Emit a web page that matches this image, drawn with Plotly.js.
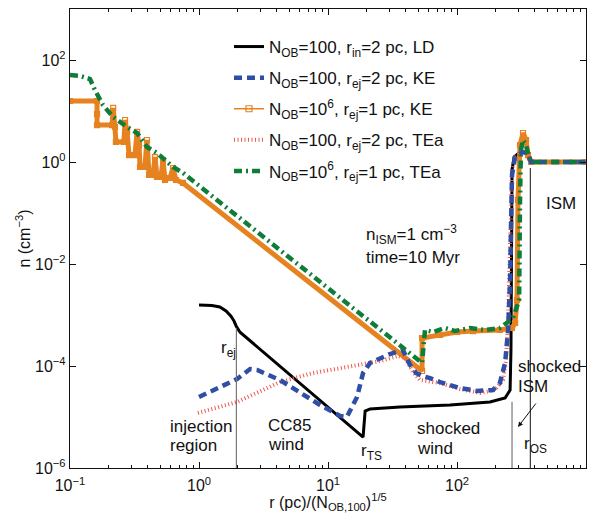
<!DOCTYPE html>
<html><head><meta charset="utf-8">
<script src="https://cdn.plot.ly/plotly-3.0.1.min.js"></script>
<style>html,body{margin:0;padding:0;background:#fff}</style>
</head><body><div id="chart" style="width:596px;height:513px"></div>
<script>
// ---- data: r (pc)/(N_OB,100)^(1/5) and n (cm^-3) ----
const rLD = [1.0,1.26,1.45,1.62,1.77,1.87,1.94,2.08,18.7,19.4,21.2,36.1,88.3,180,236,258,262,267,277,308,343,355,368,1000];
const nLD = [1.57e-3,1.53e-3,1.44e-3,1.20e-3,9.5e-4,7.6e-4,6.1e-4,4.6e-4,4.05e-6,1.31e-5,1.44e-5,1.57e-5,1.72e-5,1.97e-5,2.36e-5,3.39e-5,2.06e-4,0.70,1.25,1.57,1.50,1.2,1.0,1.0];

const rKE100 = [1.0,1.97,2.49,2.82,4.25,6.88,8.67,12.4,14.0,16.8,18.7,21.2,25.3,30.2,38.1,43.2,48.1,53.6,61.8,73.8,105,143,190,215,236,249,258,267,282,319,355,375,1000];
const nKE100 = [2.47e-5,5.56e-5,8.7e-5,8.35e-5,5.3e-5,2.47e-5,1.72e-5,1.05e-5,1.0e-5,2.47e-5,7.3e-5,1.15e-4,1.44e-4,1.72e-4,2.06e-4,1.05e-4,7.3e-5,6.4e-5,5.8e-5,4.85e-5,3.7e-5,3.24e-5,3.39e-5,4.64e-5,1.15e-4,5.1e-4,4.9e-3,0.556,1.25,1.57,1.50,1.0,1.0];

const rKE1e6 = [0.1,0.162,0.162,0.162,0.212,0.216,0.223,0.227,0.262,0.267,0.277,0.287,0.319,0.331,0.343,0.349,0.381,0.395,0.41,0.44,0.456,0.472,0.507,0.526,0.545,0.596,0.629,0.663,0.751,53.6,53.6,73.8,100,133,215,267,282,292,297,308,325,343,355,375,1000];
const nKE1e6 = [15.7,15.7,8.7,5.3,5.3,11.5,4.86,2.47,2.47,6.66,3.88,1.37,1.37,3.88,2.15,0.80,0.80,2.7,0.556,0.556,1.25,0.508,0.508,1.09,0.444,0.486,0.76,0.444,0.388,7.98e-5,3.54e-4,4.05e-4,4.64e-4,4.85e-4,5.08e-4,5.56e-4,6.97e-4,1.97e-3,0.18,2.15,3.7,2.7,1.37,1.0,1.0];

const rTE100 = [0.98,1.97,4.25,7.65,14.0,25.3,34.9,39.5,45.6,51.7,73.8,105,151,197,227,240,249,258,267,282,319,355,375,1000];
const nTE100 = [1.2e-5,1.97e-5,4.85e-5,7.3e-5,9.55e-5,1.25e-4,1.57e-4,1.44e-4,7.6e-5,5.3e-5,4.65e-5,3.54e-5,2.96e-5,3.39e-5,5.3e-5,1.31e-4,8.0e-4,0.0188,0.70,1.25,1.57,1.50,1.0,1.0];

const rTE1e6 = [0.1,0.12,0.143,0.156,0.18,0.216,0.277,0.331,0.395,0.472,0.629,0.751,53.6,56.5,65.2,80.7,96.5,126,165,215,272,303,308,313,325,343,362,380,1000];
const nTE1e6 = [50.8,48.6,42.4,25.8,13.1,7.63,4.86,3.7,1.97,1.5,0.80,0.61,1.15e-4,5.08e-4,4.64e-4,5.56e-4,4.85e-4,5.56e-4,5.08e-4,5.56e-4,8.7e-4,1.97e-3,0.18,1.72,2.7,2.15,1.2,1.0,1.0];

const names = [
  'N<sub>OB</sub>=100, r<sub>in</sub>=2 pc, LD',
  'N<sub>OB</sub>=100, r<sub>ej</sub>=2 pc, KE',
  'N<sub>OB</sub>=10<sup>6</sup>, r<sub>ej</sub>=1 pc, KE',
  'N<sub>OB</sub>=100, r<sub>ej</sub>=2 pc, TEa',
  'N<sub>OB</sub>=10<sup>6</sup>, r<sub>ej</sub>=1 pc, TEa'
];
const xTickVals = [0.1, 1, 10, 100, 1000];
const xTickText = ['10<sup>−1</sup>', '10<sup>0</sup>', '10<sup>1</sup>', '10<sup>2</sup>', '10<sup>3</sup>'];
const yTickVals = [1e-6, 1e-4, 1e-2, 1, 100];
const yTickText = ['10<sup>−6</sup>', '10<sup>−4</sup>', '10<sup>−2</sup>', '10<sup>0</sup>', '10<sup>2</sup>'];
const rEj = 1.95, rInner = 267, rOS = 370;

// minor tick positions (2..9 in each decade)
const xMinor = [];
for (let d = -1; d < 3; d++) for (let k = 2; k <= 9; k++) xMinor.push(k * Math.pow(10, d));

// ---- styles ----
const cBlack = '#000000', cBlue = '#2f4ea6', cOrange = '#e6821f', cRed = '#ee5a4c', cGreen = '#0f7d3a';
const FONT = 'Liberation Sans, Arial, Helvetica, sans-serif';

const traces = [
  {x: rLD, y: nLD, name: names[0], mode: 'lines', legendrank: 1, legendgroup: 'a',
   line: {color: cBlack, width: 3}},
  {x: rKE1e6, y: nKE1e6, name: names[2], mode: 'lines+markers', showlegend: false, legendgroup: 'c',
   line: {color: cOrange, width: 5}, marker: {symbol: 'square-open', size: 5, color: cOrange, line: {width: 1.2}}},
  {x: [null], y: [null], name: names[2], mode: 'lines+markers', legendrank: 3, legendgroup: 'c',
   line: {color: cOrange, width: 1.5}, marker: {symbol: 'square-open', size: 6, color: cOrange, line: {width: 1.2}}},
  {x: rTE100, y: nTE100, name: names[3], mode: 'lines', legendrank: 4, legendgroup: 'd',
   line: {color: cRed, width: 4, dash: '1px,2.5px'}},
  {x: rKE100, y: nKE100, name: names[1], mode: 'lines', legendrank: 2, legendgroup: 'b',
   line: {color: cBlue, width: 4.5, dash: '8px,5px'}},
  {x: rTE1e6, y: nTE1e6, name: names[4], mode: 'lines', legendrank: 5, legendgroup: 'e',
   line: {color: cGreen, width: 4.5, dash: '8px,4px,2px,4px'}}
];

// pixel -> paper helpers for text placement
const L = 70, R = 586, T = 9, B = 468;
const px = X => (X - L) / (R - L);
const py = Y => (B - Y) / (B - T);
function txt(text, X, Y, xanchor) {
  return {text: text, x: px(X), y: py(Y), xref: 'paper', yref: 'paper', showarrow: false,
          xanchor: xanchor || 'left', yanchor: 'middle', font: {family: FONT, size: 17, color: '#111'}};
}

const annotations = [
  txt('n<sub>ISM</sub>=1 cm<sup>−3</sup>', 364, 234),
  txt('time=10 Myr', 364, 257),
  txt('ISM', 561, 203, 'center'),
  txt('shocked', 516, 366),
  txt('ISM', 516, 386),
  txt('shocked', 415, 428),
  txt('wind', 415, 448),
  txt('CC85', 266, 425),
  txt('wind', 266, 444),
  txt('injection', 168, 426),
  txt('region', 168, 445),
  txt('r<sub>ej</sub>', 219, 349),
  txt('r<sub>TS</sub>', 359, 452),
  txt('r<sub>OS</sub>', 522, 445),
  {text: '', x: px(518), y: py(427), xref: 'paper', yref: 'paper', showarrow: true,
   ax: 19, ay: -25, arrowhead: 2, arrowsize: 1, arrowwidth: 1, arrowcolor: '#111', standoff: 0}
];

const shapes = [
  {type: 'line', xref: 'x', yref: 'y', x0: rEj, x1: rEj, y0: 1e-6, y1: 5.5e-4, line: {color: '#777', width: 1.2}},
  {type: 'line', xref: 'x', yref: 'y', x0: rInner, x1: rInner, y0: 1e-6, y1: 2.0e-5, line: {color: '#777', width: 1.2}},
  {type: 'line', xref: 'x', yref: 'y', x0: rOS, x1: rOS, y0: 1e-6, y1: 0.76, line: {color: '#111', width: 1}}
];

const layout = {
  width: 596, height: 513,
  margin: {l: L, r: 596 - R, t: T, b: 513 - B},
  paper_bgcolor: '#fff', plot_bgcolor: '#fff',
  font: {family: FONT, size: 16, color: '#111'},
  showlegend: true,
  legend: {x: px(229), y: py(29), xanchor: 'left', yanchor: 'top', bgcolor: 'rgba(0,0,0,0)',
           font: {family: FONT, size: 17, color: '#111'}, itemwidth: 30, tracegroupgap: 6},
  xaxis: {type: 'log', range: [-1, 3], tickmode: 'array', tickvals: xTickVals, ticktext: xTickText,
          ticks: 'inside', ticklen: 6, tickcolor: '#111', mirror: 'ticks', showline: true, linecolor: '#111', linewidth: 1.2,
          showgrid: false, zeroline: false, tickfont: {family: FONT, size: 16}, ticklabelstandoff: 3,
          minor: {tickmode: 'array', tickvals: xMinor, ticks: 'inside', ticklen: 3, tickcolor: '#111', showgrid: false},
          title: {text: 'r (pc)/(N<sub>OB,100</sub>)<sup>1/5</sup>', font: {family: FONT, size: 16}, standoff: 4}},
  yaxis: {type: 'log', range: [-6, 3], tickmode: 'array', tickvals: yTickVals, ticktext: yTickText,
          ticks: 'inside', ticklen: 6, tickcolor: '#111', mirror: 'ticks', showline: true, linecolor: '#111', linewidth: 1.2,
          showgrid: false, zeroline: false, tickfont: {family: FONT, size: 16},
          title: {text: 'n (cm<sup>−3</sup>)', font: {family: FONT, size: 16}, standoff: 0}},
  annotations: annotations,
  shapes: shapes
};

Plotly.newPlot('chart', traces, layout, {displayModeBar: false, staticPlot: true});
</script></body></html>
